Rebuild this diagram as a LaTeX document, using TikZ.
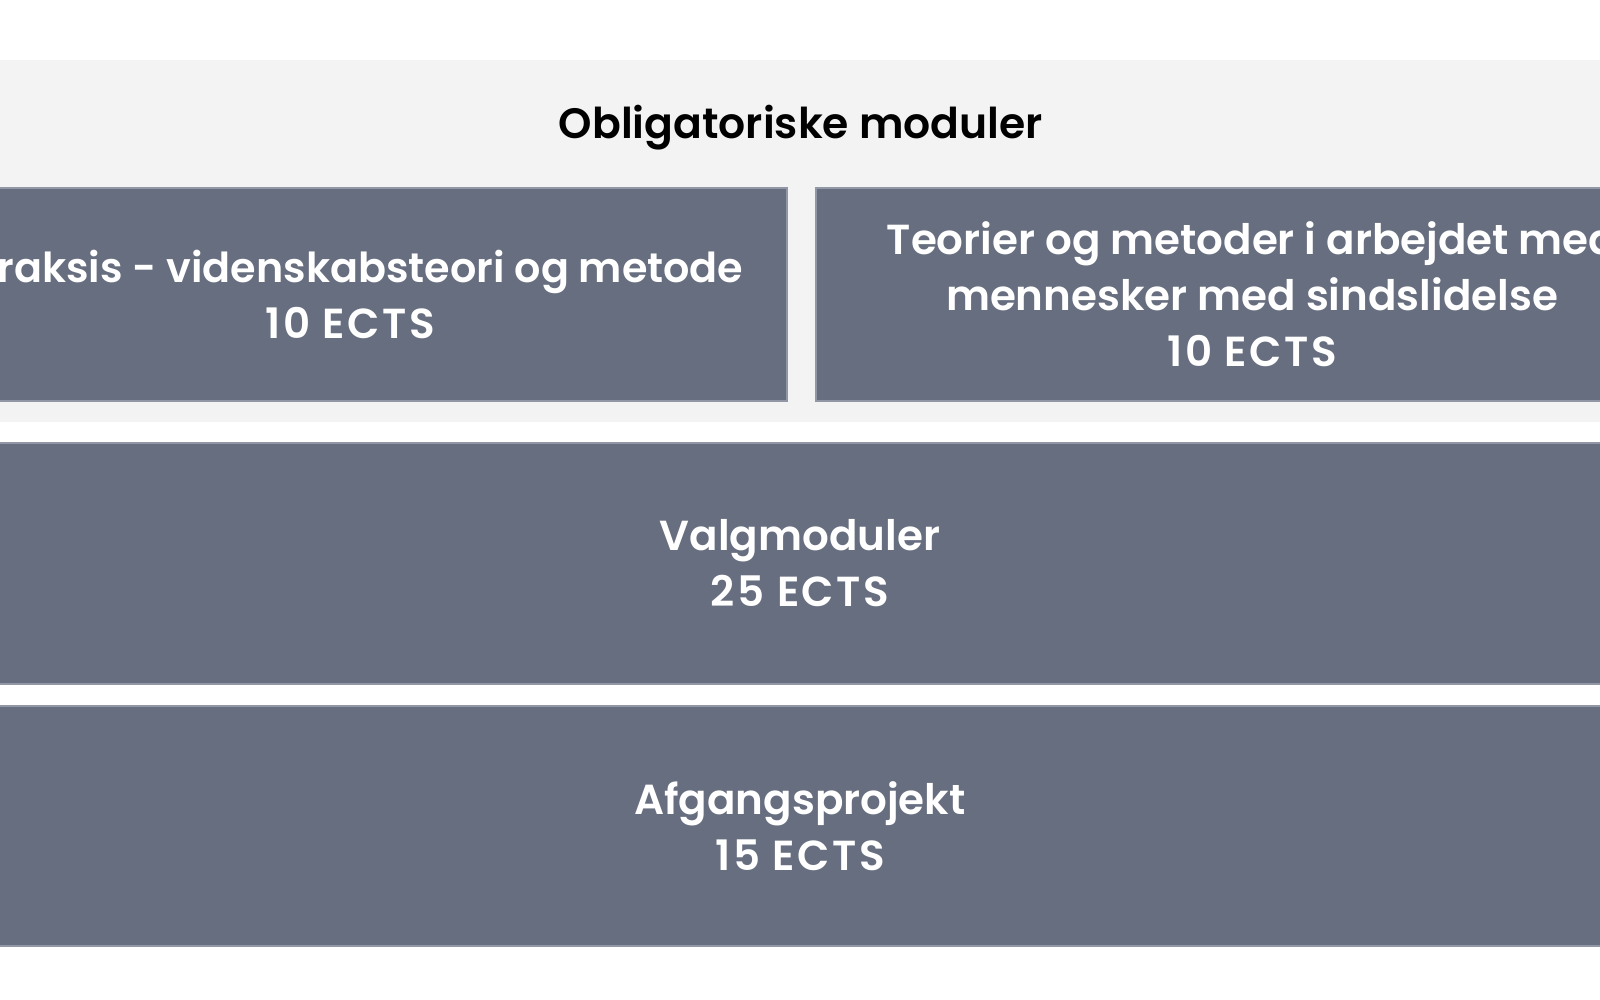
\documentclass[tikz,border=0pt]{standalone}
\usepackage{fontspec}
\setmainfont{Poppins}
\newfontfamily\popsemi{Poppins SemiBold}
\newfontfamily\popects{Poppins SemiBold}[LetterSpace=6]
\newcommand{\ectsline}[1]{{\popects #1}}
\definecolor{boxgray}{HTML}{676E7F}
\definecolor{boxedge}{HTML}{9197A5}
\definecolor{bandgray}{HTML}{F3F3F3}
\begin{document}
\begin{tikzpicture}[x=1pt,y=-1pt,
  band/.style={rectangle, fill=bandgray, draw=none, inner sep=0pt},
  modbox/.style={rectangle, fill=boxgray, draw=boxedge, line width=1.2pt, inner sep=0pt,
    text=white, align=center, font=\popsemi\fontsize{42}{56}\selectfont},
  titletext/.style={text=black, inner sep=0pt, font=\popsemi\fontsize{42.5}{56}\selectfont}]
\useasboundingbox (0,0) rectangle (1600,1000);
\clip (0,0) rectangle (1600,1000);
\fill[white] (0,0) rectangle (1600,1000);
\node[band, minimum width=1800pt, minimum height=362pt] (obl) at (800,241) {};
\node[titletext] (title) at (801,128) {Obligatoriske moduler};
\node[modbox, minimum width=874pt, minimum height=213pt] (prak) at (350,294.5)
  {\hspace*{16pt}{\fontsize{41.3}{56}\selectfont Praksis - videnskabsteori og metode}\\\ectsline{10 ECTS}};
\node[modbox, minimum width=872pt, minimum height=213pt] (teori) at (1252,294.5)
  {Teorier og metoder i arbejdet med\\mennesker med sindslidelse\\\ectsline{10 ECTS}};
\node[modbox, minimum width=1800pt, minimum height=241pt] (valg) at (800,563.5)
  {Valgmoduler\\\ectsline{25 ECTS}};
\node[modbox, minimum width=1800pt, minimum height=240pt] (afg) at (800,826)
  {Afgangsprojekt\\\ectsline{15 ECTS}};
\end{tikzpicture}
\end{document}
